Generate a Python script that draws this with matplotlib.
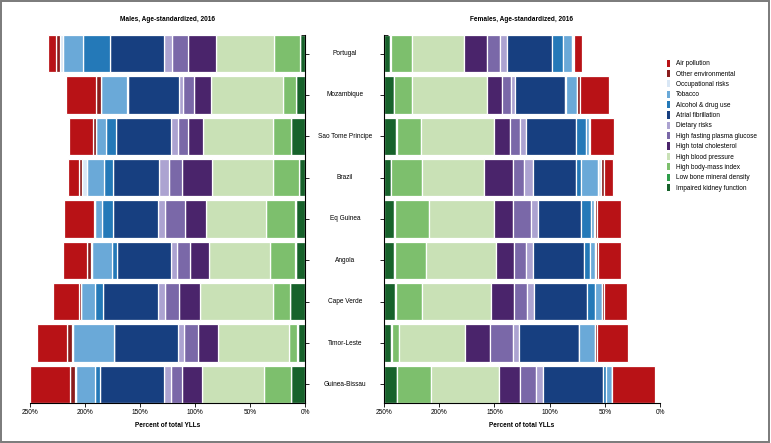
import matplotlib
matplotlib.use("Agg")
import matplotlib.pyplot as plt
import matplotlib.patches as mpatches
import matplotlib.transforms as mtransforms
from matplotlib import font_manager
import numpy as np

# ---------------- data ----------------
countries = ["Portugal", "Mozambique", "Sao Tome Principe", "Brazil", "Eq Guinea",
             "Angola", "Cape Verde", "Timor-Leste", "Guinea-Bissau"]

risks = ["Air pollution", "Other environmental", "Occupational risks", "Tobacco",
         "Alcohol & drug use", "Atrial fibrillation", "Dietary risks",
         "High fasting plasma glucose", "High total cholesterol",
         "High blood pressure", "High body-mass index",
         "Low bone mineral density", "Impaired kidney function"]

# percent of total YLLs, one list per risk, in country order
males = {
    "Impaired kidney function":     [4.3, 7.9, 12.3, 5.5, 8.5, 8.5, 13.3, 6.5, 12.5],
    "Low bone mineral density":     [0.4, 0.4, 0.4, 0.4, 0.4, 0.4, 0.4, 0.4, 0.4],
    "High body-mass index":         [23.2, 11.4, 16.8, 23.6, 27.0, 22.5, 15.7, 7.2, 24.8],
    "High blood pressure":          [53.3, 66.0, 63.2, 55.3, 53.8, 55.9, 66.1, 65.0, 55.8],
    "High total cholesterol":       [25.2, 14.9, 14.0, 26.7, 19.4, 16.8, 18.8, 17.9, 17.9],
    "High fasting plasma glucose":  [14.5, 10.0, 9.2, 11.9, 17.9, 12.1, 12.7, 12.7, 10.0],
    "Dietary risks":                [7.0, 3.9, 5.5, 9.0, 6.9, 5.6, 6.4, 5.5, 6.6],
    "Atrial fibrillation":          [49.1, 46.7, 50.6, 41.8, 40.8, 48.8, 50.5, 58.4, 58.2],
    "Alcohol & drug use":           [25.1, 0.5, 8.6, 8.1, 10.0, 5.1, 6.6, 0.3, 4.3],
    "Tobacco":                      [18.2, 23.3, 9.2, 16.0, 5.9, 17.7, 12.9, 36.7, 17.4],
    "Occupational risks":           [2.1, 0.7, 0.5, 4.2, 0.9, 1.1, 0.5, 1.5, 0.9],
    "Other environmental":          [3.7, 4.5, 2.4, 3.0, 0.6, 3.7, 1.8, 4.0, 4.5],
    "Air pollution":                [7.3, 27.3, 21.6, 10.0, 26.7, 21.8, 23.1, 27.8, 36.7],
}

females = {
    "Impaired kidney function":     [5.6, 9.0, 11.2, 6.0, 9.4, 9.4, 10.3, 6.7, 11.8],
    "Low bone mineral density":     [0.4, 0.4, 0.4, 0.4, 0.4, 0.4, 0.4, 0.4, 0.4],
    "High body-mass index":         [19.5, 15.9, 21.9, 27.9, 30.7, 28.4, 23.6, 6.4, 30.3],
    "High blood pressure":          [46.8, 68.1, 65.8, 56.1, 58.7, 62.8, 62.8, 60.0, 61.8],
    "High total cholesterol":       [20.9, 13.4, 14.5, 26.3, 17.7, 17.2, 21.0, 22.5, 19.2],
    "High fasting plasma glucose":  [12.0, 8.2, 9.1, 10.1, 16.0, 10.6, 11.4, 20.9, 14.4],
    "Dietary risks":                [6.5, 4.0, 5.4, 8.5, 6.7, 6.5, 6.8, 5.4, 6.5],
    "Atrial fibrillation":          [40.3, 45.4, 45.9, 38.6, 38.9, 45.9, 47.5, 54.2, 54.0],
    "Alcohol & drug use":           [10.0, 0.2, 8.6, 4.8, 8.9, 5.6, 7.0, 0.2, 2.6],
    "Tobacco":                      [8.6, 10.1, 3.2, 15.5, 2.8, 4.5, 6.5, 14.6, 5.1],
    "Occupational risks":           [0.9, 0.3, 0.3, 2.3, 0.9, 0.3, 0.2, 0.2, 0.3],
    "Other environmental":          [0.9, 2.1, 0.5, 2.6, 1.6, 1.8, 1.8, 1.8, 0.5],
    "Air pollution":                [7.2, 26.7, 21.9, 8.6, 22.3, 21.6, 20.7, 27.7, 38.3],
}

colors = {
    "Air pollution": "#b81216",
    "Other environmental": "#8a1c1c",
    "Occupational risks": "#d9e7f5",
    "Tobacco": "#6aa9d8",
    "Alcohol & drug use": "#2479b8",
    "Atrial fibrillation": "#173f80",
    "Dietary risks": "#aca3d1",
    "High fasting plasma glucose": "#7a68a8",
    "High total cholesterol": "#4a246b",
    "High blood pressure": "#c9e1b6",
    "High body-mass index": "#7dbf6d",
    "Low bone mineral density": "#2f9e4b",
    "Impaired kidney function": "#17622b",
}

xticks = [0, 50, 100, 150, 200, 250]
xmax = 250

# ---------------- fonts ----------------
avail = {f.name for f in font_manager.fontManager.ttflist}
fam = "Liberation Sans Narrow" if "Liberation Sans Narrow" in avail else "Liberation Sans"
plt.rcParams["font.family"] = [fam, "DejaVu Sans"]
FS = 4.7

W, H = 771, 443
fig = plt.figure(figsize=(W / 100, H / 100), dpi=100)

ax_m = fig.add_axes([30 / W, 1 - 403 / H, 275 / W, 368 / H])
ax_f = fig.add_axes([384 / W, 1 - 403 / H, 276 / W, 368 / H])

y = np.arange(len(countries))
stack_order = risks[::-1]  # kidney first


def draw(ax, data):
    left = np.zeros(len(countries))
    for r in stack_order:
        vals = np.array(data[r])
        ax.barh(y, vals, left=left, height=0.9, color=colors[r],
                edgecolor="white", linewidth=0.9)
        left += vals
    ax.set_ylim(len(countries) - 0.55, -0.45)
    ax.set_xticks(xticks)
    ax.spines["top"].set_visible(False)
    for s in ax.spines.values():
        s.set_linewidth(0.8)
    ax.tick_params(axis="x", length=3, width=0.6, labelsize=FS, pad=1.5)
    ax.set_xlabel("Percent of total YLLs", fontsize=FS, fontweight="bold", labelpad=4)
    ax.set_yticks(y)
    ax.set_yticklabels([])
    ax.set_yticks([-0.45, len(countries) - 0.55], minor=True)


draw(ax_m, males)
ax_m.set_xlim(xmax, 0)
ax_m.xaxis.set_major_formatter(plt.FuncFormatter(lambda v, p: f"{v:.0f}%"))
ax_m.spines["left"].set_visible(False)
ax_m.yaxis.tick_right()
ax_m.tick_params(axis="y", which="major", direction="out", length=3, width=0.6)
ax_m.tick_params(axis="y", which="minor", direction="in", length=3, width=0.6)
ax_m.set_title("Males, Age-standardized, 2016", fontsize=FS, fontweight="bold", pad=10)

draw(ax_f, females)
ax_f.set_xlim(0, xmax)
ax_f.xaxis.set_major_formatter(plt.FuncFormatter(lambda v, p: f"{xmax - v:.0f}%"))
ax_f.spines["right"].set_visible(False)
ax_f.tick_params(axis="y", which="major", direction="out", length=3, width=0.6)
ax_f.tick_params(axis="y", which="minor", direction="in", length=3, width=0.6)
ax_f.set_title("Females, Age-standardized, 2016", fontsize=FS, fontweight="bold", pad=10)

# country labels in the middle
tr = mtransforms.blended_transform_factory(fig.transFigure, ax_m.transData)
for i, c in enumerate(countries):
    fig.text(345 / W, i, c, transform=tr, ha="center", va="center", fontsize=FS)

# legend
handles = [mpatches.Patch(facecolor=colors[r], edgecolor="none", label=r) for r in risks]
fig.legend(handles=handles, loc="upper left", bbox_to_anchor=(664 / W, 1 - 57 / H),
           frameon=False, fontsize=FS, handlelength=0.55, handleheight=1.3,
           handletextpad=0.9, labelspacing=0.4, borderaxespad=0)

# figure border
fig.add_artist(mpatches.Rectangle((0.001, 0.002), 0.997, 0.996, transform=fig.transFigure,
                                  fill=False, edgecolor="#7a7a7a", linewidth=1.4))

fig.savefig("out.png", dpi=100)
